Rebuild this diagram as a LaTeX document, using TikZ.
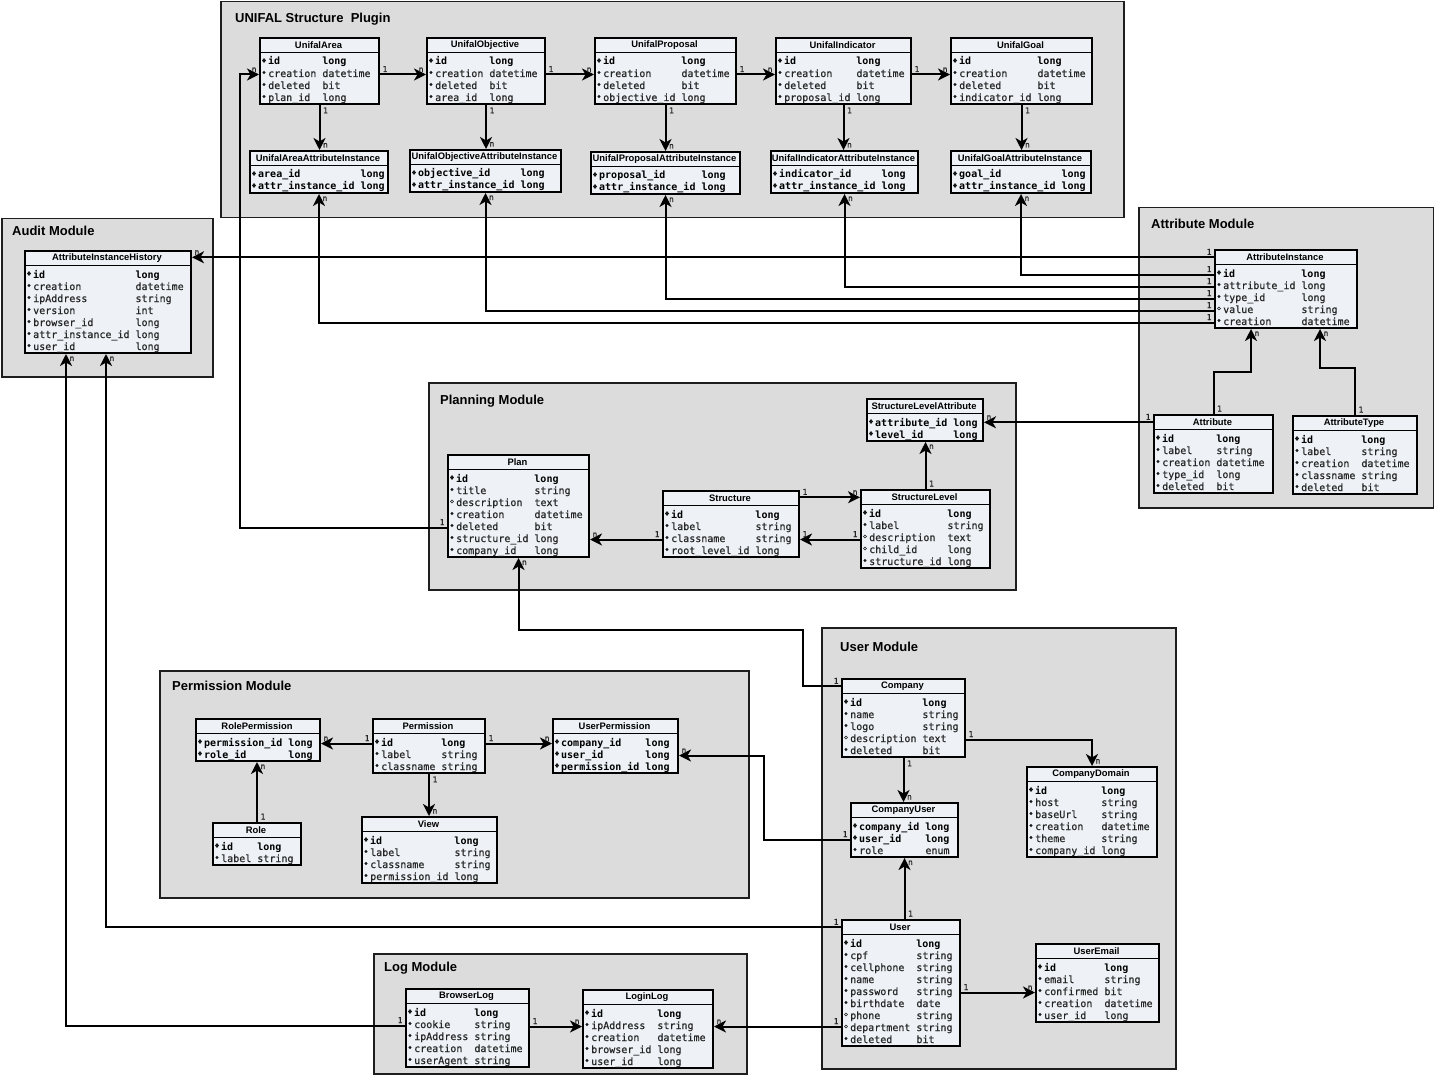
\documentclass[tikz,border=0pt]{standalone}
\usepackage{fontspec}
\setmainfont{Liberation Sans}
\newfontfamily\monof[UprightFeatures={FakeBold=0.6}]{DejaVu Sans Mono}
\usetikzlibrary{arrows.meta,calc}
\definecolor{modfill}{RGB}{220,220,220}
\definecolor{entfill}{RGB}{238,242,246}
\definecolor{ink}{RGB}{30,30,30}
\def\kk{k}\def\oo{o}
\tikzset{
 modbox/.style={draw=ink, line width=1.5pt, fill=modfill, inner sep=0pt},
 modtitle/.style={anchor=west, font=\bfseries\fontsize{13}{15}\selectfont, inner sep=0pt},
 entbox/.style={draw=black, line width=2pt, fill=entfill, inner sep=0pt},
 enttitle/.style={font=\bfseries\fontsize{9.4}{11}\selectfont, inner sep=0pt},
 fld/.style={anchor=west, font=\monof\fontsize{10}{12}\selectfont, inner sep=0pt, text height=7pt, text depth=2pt, text=black!85},
 lab/.style={font=\monof\fontsize{8}{9}\selectfont, inner sep=1.5pt, text=black!85},
 conn/.style={line width=2pt, -{Stealth[length=12pt,width=12pt,inset=3.5pt]}},
}
% name, x, y, width, rows, max field length, title, rows list
\newcommand{\entity}[8]{%
  \pgfmathsetmacro{\enth}{18+12*#5}%
  \node[entbox, minimum width=#4pt, minimum height=\enth pt, anchor=north west] (#1) at (#2,#3) {};
  \draw[line width=1.6pt] (#2,#3+15.5) -- (#2+#4,#3+15.5);
  \node[enttitle] (#1-t) at (#2+#4/2,#3+8.3) {#7};
  \foreach \mk/\fn/\ty [count=\i] in {#8}{%
    \pgfmathsetmacro{\yc}{#3+25.5+12*(\i-1)}%
    \pgfmathsetmacro{\tx}{#2+9+(#6+1)*6.02}%
    \ifx\mk\kk
      \fill[black!90] (#2+5,\yc-2) +(0,-2.4) -- +(2,0) -- +(0,2.4) -- +(-2,0) -- cycle;
      \node[fld, text=black] (#1-f\i) at (#2+9,\yc) {\bfseries\fn};
      \node[fld, text=black] (#1-y\i) at (\tx,\yc) {\bfseries\ty};
    \else
      \ifx\mk\oo
        \draw[black!90, line width=0.6pt] (#2+5,\yc-2) circle (1.5pt);
      \else
        \fill[black!90] (#2+5,\yc-2) circle (1.7pt);
      \fi
      \node[fld] (#1-f\i) at (#2+9,\yc) {\fn};
      \node[fld] (#1-y\i) at (\tx,\yc) {\ty};
    \fi
  }%
}
\begin{document}
\begin{tikzpicture}[x=1pt,y=-1pt]
\useasboundingbox (0,0) rectangle (1434,1075);
\fill[white] (0,0) rectangle (1434,1075);

% modules
\node[modbox, minimum width=903pt, minimum height=216pt, anchor=north west] (plugin) at (220,1) {};
\node[modtitle] (plugin-title) at (235,19) {UNIFAL Structure\ \ Plugin};
\node[modbox, minimum width=211pt, minimum height=158pt, anchor=north west] (audit) at (1,218) {};
\node[modtitle] (audit-title) at (12,231) {Audit Module};
\node[modbox, minimum width=295pt, minimum height=300pt, anchor=north west] (attrmod) at (1138,207) {};
\node[modtitle] (attrmod-title) at (1151,224) {Attribute Module};
\node[modbox, minimum width=587pt, minimum height=207pt, anchor=north west] (planning) at (428,382) {};
\node[modtitle] (planning-title) at (440,401) {Planning Module};
\node[modbox, minimum width=589pt, minimum height=227pt, anchor=north west] (permmod) at (159,670) {};
\node[modtitle] (permmod-title) at (172,686) {Permission Module};
\node[modbox, minimum width=354pt, minimum height=441pt, anchor=north west] (usermod) at (821,627) {};
\node[modtitle] (usermod-title) at (840,647) {User Module};
\node[modbox, minimum width=373pt, minimum height=120pt, anchor=north west] (logmod) at (373,953) {};
\node[modtitle] (logmod-title) at (384,968) {Log Module};

% plugin entities
\entity{area}{259}{37}{119}{4}{8}{UnifalArea}{k/id/long,r/creation/datetime,r/deleted/bit,r/plan\_id/long}
\entity{objective}{426}{37}{118}{4}{8}{UnifalObjective}{k/id/long,r/creation/datetime,r/deleted/bit,r/area\_id/long}
\entity{proposal}{594}{37}{141}{4}{12}{UnifalProposal}{k/id/long,r/creation/datetime,r/deleted/bit,r/objective\_id/long}
\entity{indicator}{775}{37}{135}{4}{11}{UnifalIndicator}{k/id/long,r/creation/datetime,r/deleted/bit,r/proposal\_id/long}
\entity{goal}{950}{37}{141}{4}{12}{UnifalGoal}{k/id/long,r/creation/datetime,r/deleted/bit,r/indicator\_id/long}
\entity{areaAI}{249}{150}{138}{2}{16}{UnifalAreaAttributeInstance}{k/area\_id/long,k/attr\_instance\_id/long}
\entity{objAI}{409}{149}{151}{2}{16}{UnifalObjectiveAttributeInstance}{k/objective\_id/long,k/attr\_instance\_id/long}
\entity{propAI}{590}{151}{149}{2}{16}{UnifalProposalAttributeInstance}{k/proposal\_id/long,k/attr\_instance\_id/long}
\entity{indAI}{770}{150}{147}{2}{16}{UnifalIndicatorAttributeInstance}{k/indicator\_id/long,k/attr\_instance\_id/long}
\entity{goalAI}{950}{150}{140}{2}{16}{UnifalGoalAttributeInstance}{k/goal\_id/long,k/attr\_instance\_id/long}

% audit
\entity{aih}{24}{250}{166}{7}{16}{AttributeInstanceHistory}{k/id/long,r/creation/datetime,r/ipAddress/string,r/version/int,r/browser\_id/long,r/attr\_instance\_id/long,r/user\_id/long}

% attribute
\entity{ai}{1214}{249}{142}{5}{12}{AttributeInstance}{k/id/long,r/attribute\_id/long,r/type\_id/long,o/value/string,r/creation/datetime}
\entity{attr}{1153}{414}{119}{5}{8}{Attribute}{k/id/long,r/label/string,r/creation/datetime,r/type\_id/long,r/deleted/bit}
\entity{atype}{1292}{415}{124}{5}{9}{AttributeType}{k/id/long,r/label/string,r/creation/datetime,r/classname/string,r/deleted/bit}

% planning
\entity{plan}{447}{454}{141}{7}{12}{Plan}{k/id/long,r/title/string,o/description/text,r/creation/datetime,r/deleted/bit,r/structure\_id/long,r/company\_id/long}
\entity{structure}{662}{490}{136}{4}{13}{Structure}{k/id/long,r/label/string,r/classname/string,r/root\_level\_id/long}
\entity{slevel}{860}{489}{129}{5}{12}{StructureLevel}{k/id/long,r/label/string,o/description/text,o/child\_id/long,r/structure\_id/long}
\entity{sla}{866}{398}{116}{2}{12}{StructureLevelAttribute}{k/attribute\_id/long,k/level\_id/long}

% permission
\entity{rp}{195}{718}{124}{2}{13}{RolePermission}{k/permission\_id/long,k/role\_id/long}
\entity{perm}{372}{718}{112}{3}{9}{Permission}{k/id/long,r/label/string,r/classname/string}
\entity{userperm}{552}{718}{125}{3}{13}{UserPermission}{k/company\_id/long,k/user\_id/long,k/permission\_id/long}
\entity{role}{212}{822}{88}{2}{5}{Role}{k/id/long,r/label/string}
\entity{view}{361}{816}{135}{4}{13}{View}{k/id/long,r/label/string,r/classname/string,r/permission\_id/long}

% user
\entity{company}{841}{678}{123}{5}{11}{Company}{k/id/long,r/name/string,r/logo/string,o/description/text,r/deleted/bit}
\entity{cdomain}{1026}{766}{130}{6}{10}{CompanyDomain}{k/id/long,r/host/string,r/baseUrl/string,r/creation/datetime,r/theme/string,r/company\_id/long}
\entity{cu}{850}{802}{107}{3}{10}{CompanyUser}{k/company\_id/long,k/user\_id/long,r/role/enum}
\entity{user}{841}{919}{118}{9}{10}{User}{k/id/long,r/cpf/string,r/cellphone/string,r/name/string,r/password/string,r/birthdate/date,o/phone/string,o/department/string,r/deleted/bit}
\entity{uemail}{1035}{943}{123}{5}{9}{UserEmail}{k/id/long,r/email/string,r/confirmed/bit,r/creation/datetime,r/user\_id/long}

% log
\entity{blog}{405}{988}{123}{5}{9}{BrowserLog}{k/id/long,r/cookie/string,r/ipAddress/string,r/creation/datetime,r/userAgent/string}
\entity{llog}{582}{989}{130}{5}{10}{LoginLog}{k/id/long,r/ipAddress/string,r/creation/datetime,r/browser\_id/long,r/user\_id/long}

% ---------- connectors ----------
% plugin chain
\draw[conn] (area.east |- area-f2) node[lab,anchor=south west]{1} -- (objective.west |- area-f2) node[lab,anchor=south east]{n};
\draw[conn] (objective.east |- objective-f2) node[lab,anchor=south west]{1} -- (proposal.west |- objective-f2) node[lab,anchor=south east]{n};
\draw[conn] (proposal.east |- proposal-f2) node[lab,anchor=south west]{1} -- (indicator.west |- proposal-f2) node[lab,anchor=south east]{n};
\draw[conn] (indicator.east |- indicator-f2) node[lab,anchor=south west]{1} -- (goal.west |- indicator-f2) node[lab,anchor=south east]{n};
% plugin down
\draw[conn] (area.south) node[lab,anchor=north west,xshift=1pt]{1} -- (area.south |- areaAI.north) node[lab,anchor=south west,xshift=1pt]{n};
\draw[conn] (objective.south) node[lab,anchor=north west,xshift=1pt]{1} -- (objective.south |- objAI.north) node[lab,anchor=south west,xshift=1pt]{n};
\draw[conn] (proposal.south) node[lab,anchor=north west,xshift=1pt]{1} -- (proposal.south |- propAI.north) node[lab,anchor=south west,xshift=1pt]{n};
\draw[conn] (indicator.south) node[lab,anchor=north west,xshift=1pt]{1} -- (indicator.south |- indAI.north) node[lab,anchor=south west,xshift=1pt]{n};
\draw[conn] (goal.south) node[lab,anchor=north west,xshift=1pt]{1} -- (goal.south |- goalAI.north) node[lab,anchor=south west,xshift=1pt]{n};
% attribute instance links
\draw[conn] (ai.west |- ai-t) node[lab,anchor=south east]{1} -- (aih.east |- ai-t) node[lab,anchor=south west]{n};
\draw[conn] (ai.west |- ai-f1) node[lab,anchor=south east]{1} -| (goalAI.south) node[lab,anchor=north west,xshift=1pt]{n};
\draw[conn] (ai.west |- ai-f2) node[lab,anchor=south east]{1} -| (indAI.south) node[lab,anchor=north west,xshift=1pt]{n};
\draw[conn] (ai.west |- ai-f3) node[lab,anchor=south east]{1} -| (propAI.south) node[lab,anchor=north west,xshift=1pt]{n};
\draw[conn] (ai.west |- ai-f4) node[lab,anchor=south east]{1} -| (objAI.south) node[lab,anchor=north west,xshift=1pt]{n};
\draw[conn] (ai.west |- ai-f5) node[lab,anchor=south east]{1} -| (areaAI.south) node[lab,anchor=north west,xshift=1pt]{n};
% attribute module
\draw[conn] (attr.north) node[lab,anchor=south west,xshift=1pt]{1} -- ($(attr.north)+(0,-42)$) -| ($(ai.south west)+(37,0)$) node[lab,anchor=north west,xshift=1pt]{n};
\draw[conn] (atype.north) node[lab,anchor=south west,xshift=1pt]{1} -- ($(atype.north)+(0,-47)$) -| ($(ai.south west)+(106,0)$) node[lab,anchor=north west,xshift=1pt]{n};
\draw[conn] (attr.west |- attr-t) node[lab,anchor=south east]{1} -- (sla.east |- attr-t) node[lab,anchor=south west]{n};
% planning
\coordinate (pbend) at ($(area.west |- area-f2)+(-19,0)$);
\draw[conn] (plan.west |- plan-f5) node[lab,anchor=south east]{1} -| (pbend) -- (area.west |- area-f2) node[lab,anchor=south east]{n};
\draw[conn] (structure.west |- structure-f3) node[lab,anchor=south east]{1} -- (plan.east |- structure-f3) node[lab,anchor=south west]{n};
\draw[conn] (structure.east |- slevel-t) node[lab,anchor=south west]{1} -- (slevel.west |- slevel-t) node[lab,anchor=south east]{n};
\draw[conn] (slevel.west |- structure-f3) node[lab,anchor=south east]{1} -- (structure.east |- structure-f3) node[lab,anchor=south west]{1};
\draw[conn] (slevel.north) node[lab,anchor=south west,xshift=1pt]{1} -- (slevel.north |- sla.south) node[lab,anchor=north west,xshift=1pt]{n};
\coordinate (cbend) at ($(company.west |- company-t)+(-38,0)$);
\draw[conn] (company.west |- company-t) node[lab,anchor=south east]{1} -- (cbend) |- ($(plan.south)+(0,72)$) -- (plan.south) node[lab,anchor=north west,xshift=1pt]{n};
% permission
\draw[conn] (perm.west |- perm-f1) node[lab,anchor=south east]{1} -- (rp.east |- perm-f1) node[lab,anchor=south west]{n};
\draw[conn] (perm.east |- perm-f1) node[lab,anchor=south west]{1} -- (userperm.west |- perm-f1) node[lab,anchor=south east]{n};
\draw[conn] (perm.south) node[lab,anchor=north west,xshift=1pt]{1} -- (perm.south |- view.north) node[lab,anchor=south west,xshift=1pt]{n};
\draw[conn] (role.north) node[lab,anchor=south west,xshift=1pt]{1} -- (role.north |- rp.south) node[lab,anchor=north west,xshift=1pt]{n};
\coordinate (ubend) at ($(cu.west |- cu-f2)+(-86,0)$);
\draw[conn] (cu.west |- cu-f2) node[lab,anchor=south east]{1} -- (ubend) |- (userperm.east |- userperm-f2) node[lab,anchor=south west]{n};
% user
\draw[conn] (company.south) node[lab,anchor=north west,xshift=1pt]{1} -- (company.south |- cu.north) node[lab,anchor=south west,xshift=1pt]{n};
\draw[conn] (company.east |- company-f4) node[lab,anchor=south west]{1} -| (cdomain.north) node[lab,anchor=south west,xshift=1pt]{n};
\draw[conn] (cu.south |- user.north) node[lab,anchor=south west,xshift=1pt]{1} -- (cu.south) node[lab,anchor=north west,xshift=1pt]{n};
\draw[conn] (user.east |- user-f5) node[lab,anchor=south west]{1} -- (uemail.west |- user-f5) node[lab,anchor=south east]{n};
\draw[conn] (user.west |- llog-f2) node[lab,anchor=south east]{1} -- (llog.east |- llog-f2) node[lab,anchor=south west]{n};
\draw[conn] (blog.east |- llog-f2) node[lab,anchor=south west]{1} -- (llog.west |- llog-f2) node[lab,anchor=south east]{n};
% to audit
\draw[conn] (blog.west |- blog-f2) node[lab,anchor=south east]{1} -| ($(aih.south west)+(42,0)$) node[lab,anchor=north west,xshift=1pt]{n};
\draw[conn] (user.west |- user-t) node[lab,anchor=south east]{1} -| ($(aih.south west)+(82,0)$) node[lab,anchor=north west,xshift=1pt]{n};
\end{tikzpicture}
\end{document}
